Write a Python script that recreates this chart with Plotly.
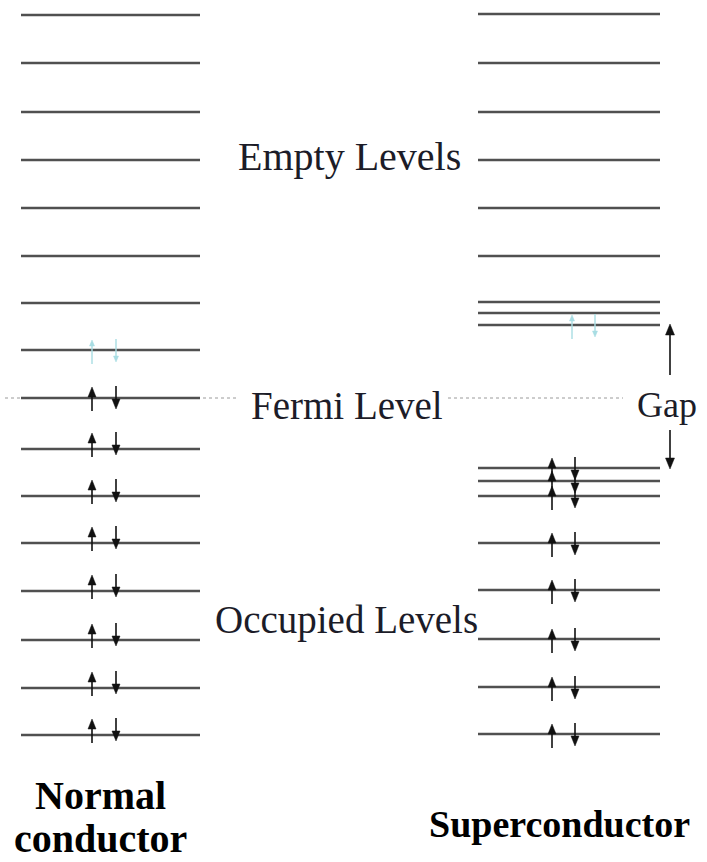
import plotly.graph_objects as go

# ---- data: energy levels (arbitrary units, Fermi level = 0) ----
normal_levels = [383, 335, 286, 238, 190, 142, 95, 48, 0, -51, -98, -145, -193, -242, -290, -337]
super_levels = [384, 335, 286, 238, 190, 142, 96, 85, 73, -70, -83, -98, -145, -192, -241, -289, -336]
normal_occupied = [0, -51, -98, -145, -193, -242, -290, -337]
normal_excited = [48]
super_occupied = [-70, -83, -98, -145, -192, -241, -289, -336]
super_excited = [73]
fermi_energy = 0
gap_edges = [73, -70]

labels = ["Empty Levels", "Fermi Level", "Occupied Levels", "Gap"]
column_titles = ["Normal", "conductor", "Superconductor"]

# ---- layout helpers (horizontal geometry in px-like units) ----
NX = (21, 200)
SX = (478, 660)
N_UP, N_DN = 92, 116
S_UP, S_DN = 552, 575
SC_UP, SC_DN = 572, 595

fig = go.Figure()


def level_trace(levels, xr, color="#505050", width=2.6):
    xs, ys = [], []
    for e in levels:
        xs += [xr[0], xr[1], None]
        ys += [e, e, None]
    fig.add_trace(go.Scatter(x=xs, y=ys, mode="lines",
                             line=dict(color=color, width=width),
                             hoverinfo="skip", showlegend=False))


def arrows(levels, xu, xd, shift, color, hw, hl, sw):
    sx, sy, hx, hy = [], [], [], []
    for e in levels:
        b = e + shift
        # up arrow
        tip = b + 16
        sx += [xu, xu, None]
        sy += [b - 8, tip - hl + 1, None]
        hx += [xu - hw, xu + hw, xu, xu - hw, None]
        hy += [tip - hl, tip - hl, tip, tip - hl, None]
        # down arrow
        tipd = b - 6
        sx += [xd, xd, None]
        sy += [b + 17, tipd + hl - 1, None]
        hx += [xd - hw, xd + hw, xd, xd - hw, None]
        hy += [tipd + hl, tipd + hl, tipd, tipd + hl, None]
    fig.add_trace(go.Scatter(x=sx, y=sy, mode="lines",
                             line=dict(color=color, width=sw),
                             hoverinfo="skip", showlegend=False))
    fig.add_trace(go.Scatter(x=hx, y=hy, mode="lines", fill="toself",
                             fillcolor=color, line=dict(color=color, width=0.5),
                             hoverinfo="skip", showlegend=False))


# Fermi level dotted line
fig.add_trace(go.Scatter(x=[5, 238, None, 448, 623],
                         y=[fermi_energy, fermi_energy, None, fermi_energy, fermi_energy],
                         mode="lines", line=dict(color="#9a9a9a", width=1, dash="dot"),
                         hoverinfo="skip", showlegend=False))

level_trace(normal_levels, NX)
level_trace(super_levels, SX)

arrows([e for e in normal_occupied if e == fermi_energy], N_UP, N_DN, -5, "#111111", 4, 10, 1.6)
arrows([e for e in normal_occupied if e != fermi_energy], N_UP, N_DN, 0, "#111111", 4, 10, 1.6)
arrows(super_occupied, S_UP, S_DN, -6, "#111111", 4, 10, 1.6)
arrows(normal_excited, N_UP, N_DN, -6, "#a8dde3", 2.5, 6, 1.4)
arrows(super_excited, SC_UP, SC_DN, -6, "#a8dde3", 2.5, 6, 1.4)

# gap arrows
gx = 670
top_e, bot_e = gap_edges
fig.add_trace(go.Scatter(x=[gx, gx, None, gx, gx],
                         y=[23, top_e - 8, None, -32, bot_e + 8],
                         mode="lines", line=dict(color="#111111", width=1.6),
                         hoverinfo="skip", showlegend=False))
fig.add_trace(go.Scatter(x=[gx - 4.5, gx + 4.5, gx, gx - 4.5, None, gx - 4.5, gx + 4.5, gx, gx - 4.5],
                         y=[top_e - 10, top_e - 10, top_e + 1, top_e - 10, None,
                            bot_e + 10, bot_e + 10, bot_e - 1, bot_e + 10],
                         mode="lines", fill="toself", fillcolor="#111111",
                         line=dict(color="#111111", width=0.5),
                         hoverinfo="skip", showlegend=False))

serif = "Liberation Serif, Times New Roman, serif"
txt = [(labels[0], 349, 242, 40), (labels[1], 347, -7, 39),
       (labels[2], 346, -222, 39), (labels[3], 667, -7, 36)]
for t, x, y, s in txt:
    fig.add_annotation(x=x, y=y, text=t, showarrow=False, xanchor="center", yanchor="middle",
                       font=dict(family=serif, size=s, color="#1c1c28"))

bold = [(column_titles[0], 100, -397, 40), (column_titles[1], 100, -440, 40),
        (column_titles[2], 559, -426, 38)]
for t, x, y, s in bold:
    fig.add_annotation(x=x, y=y, text="<b>" + t + "</b>", showarrow=False,
                       xanchor="center", yanchor="middle",
                       font=dict(family=serif, size=s, color="#000000"))

fig.update_layout(width=707, height=862, margin=dict(l=0, r=0, t=0, b=0),
                  paper_bgcolor="white", plot_bgcolor="white",
                  xaxis=dict(range=[0, 707], visible=False, fixedrange=True),
                  yaxis=dict(range=[-464, 398], visible=False, fixedrange=True),
                  showlegend=False)

fig.write_html("out.html", config={"displayModeBar": False},
               post_script="document.body.style.margin='0';document.body.style.overflow='hidden';")
